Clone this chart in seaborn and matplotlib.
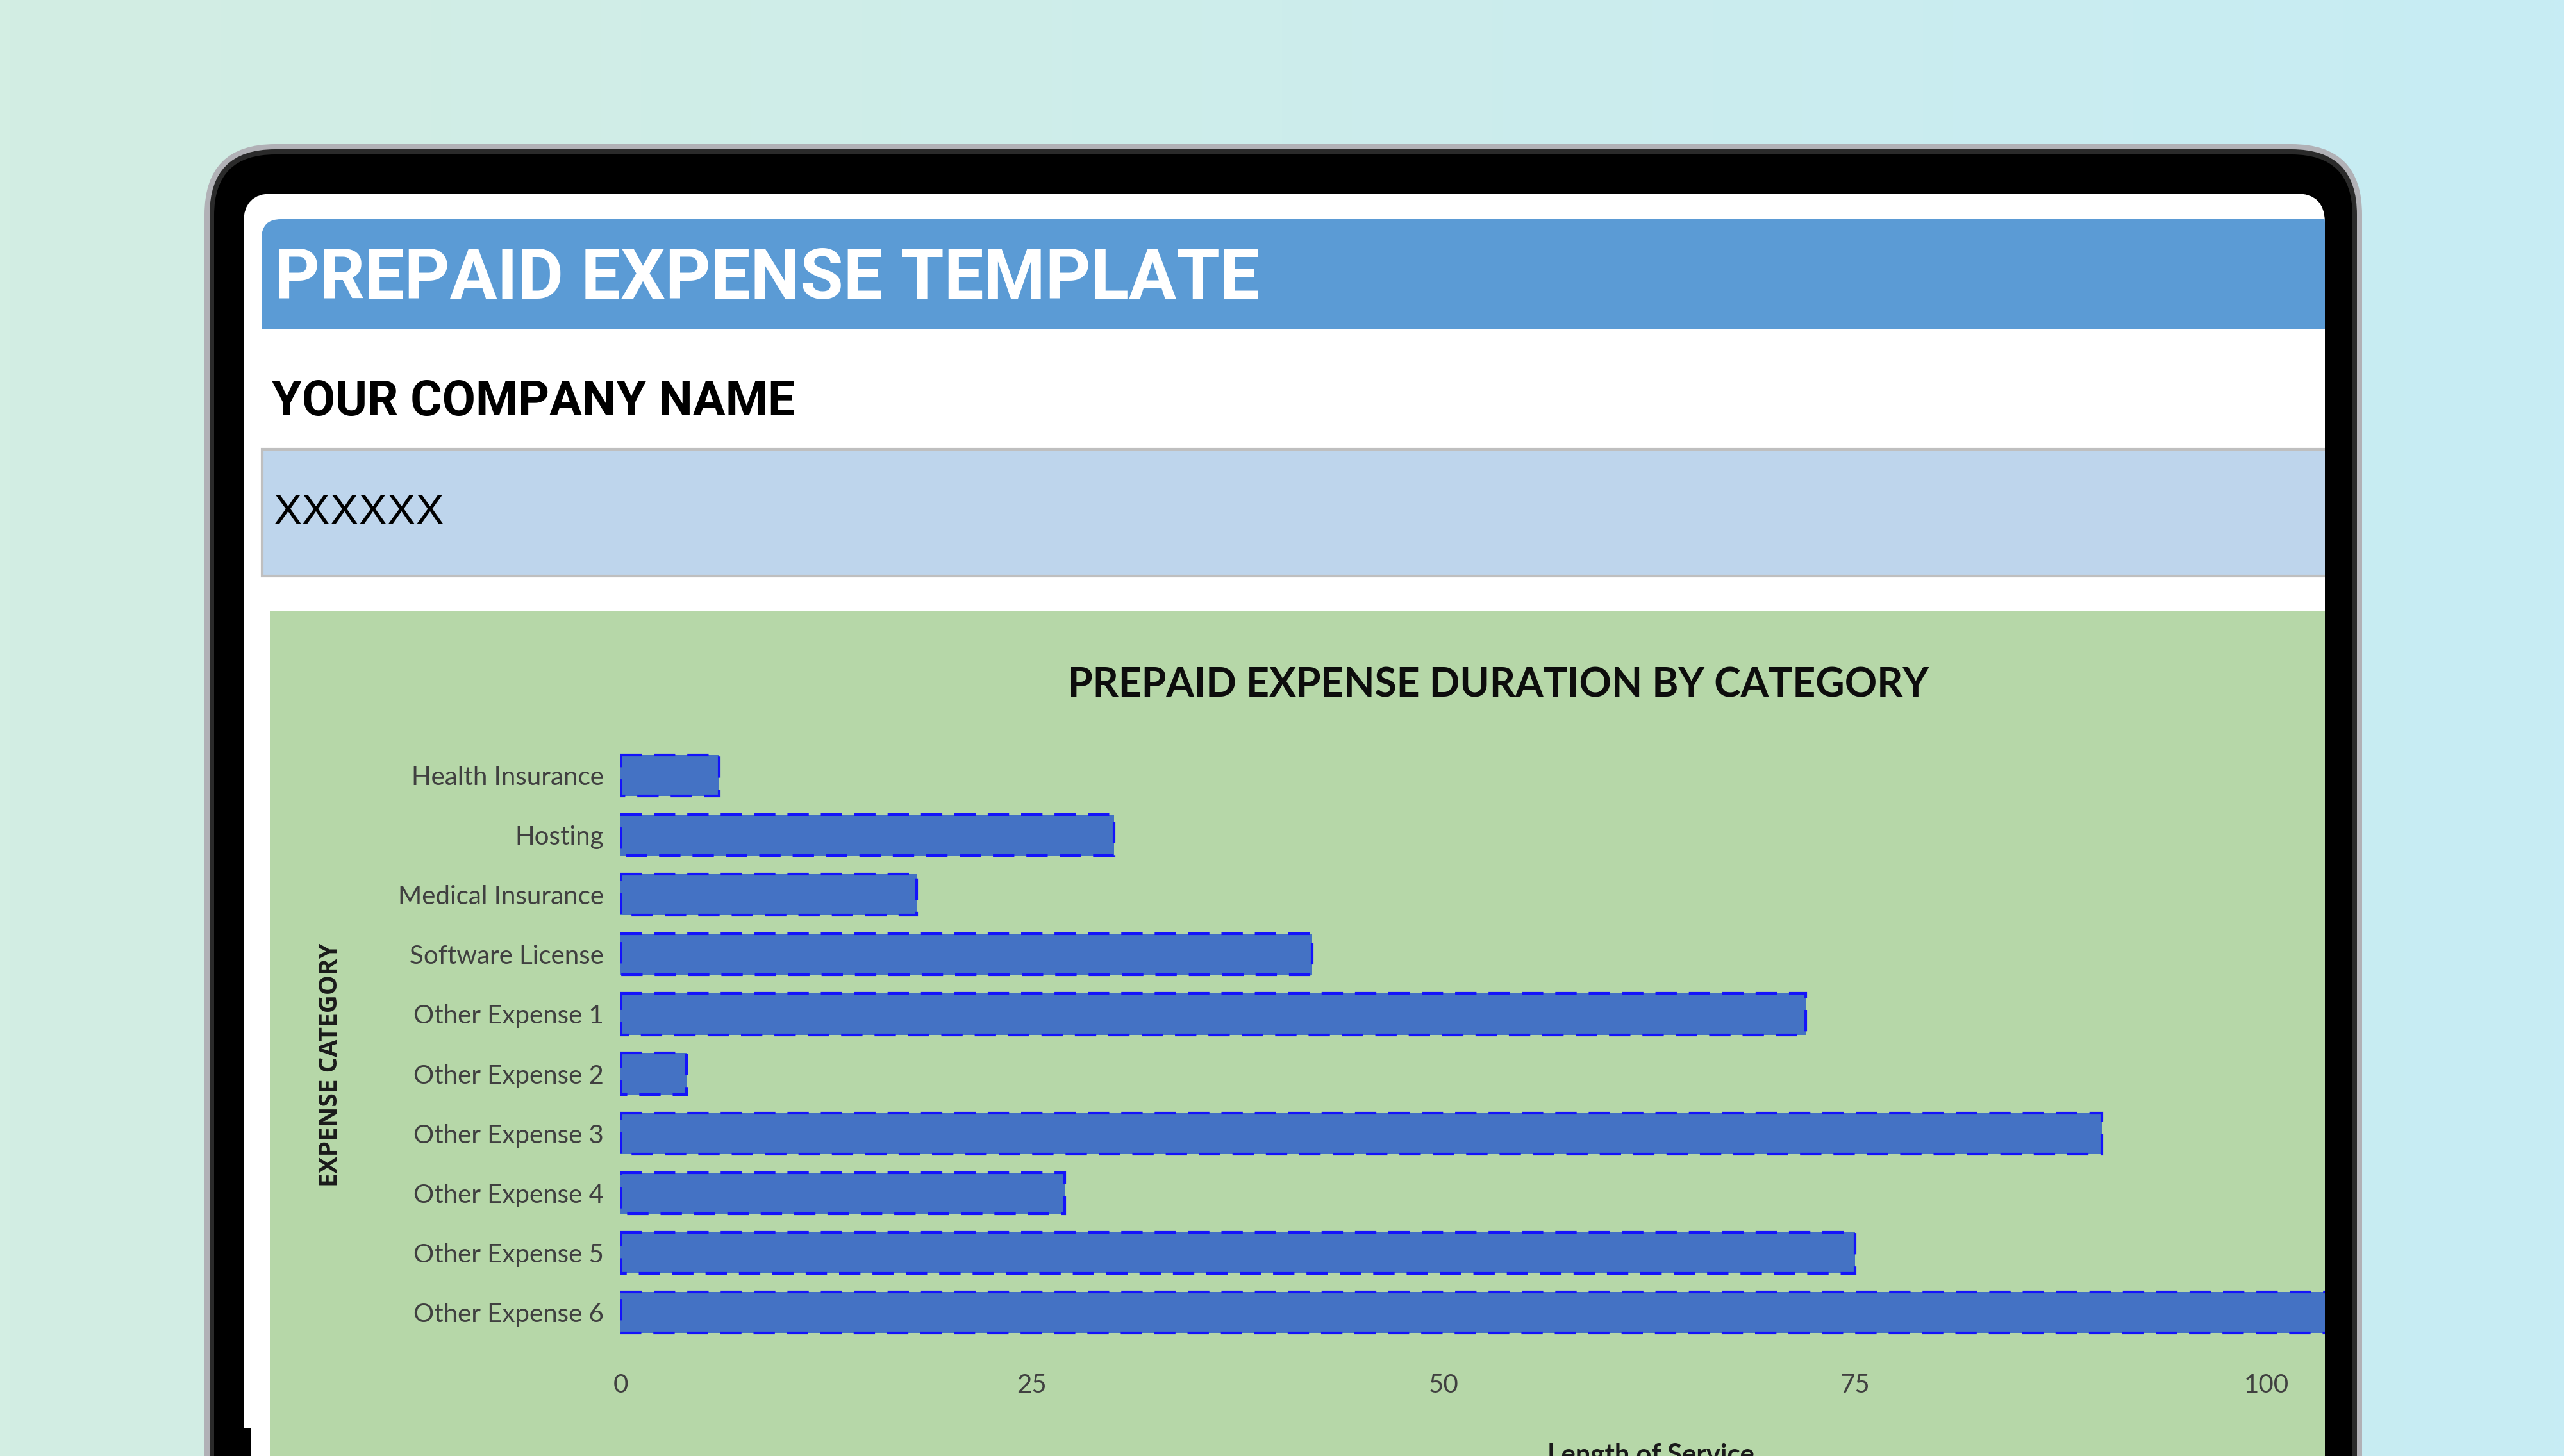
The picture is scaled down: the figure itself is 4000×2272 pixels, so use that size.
import numpy as np
import matplotlib.pyplot as plt
import seaborn as sns
from matplotlib.patches import FancyBboxPatch, Rectangle
from matplotlib.colors import LinearSegmentedColormap

# chart data
categories = ['Health Insurance', 'Hosting', 'Medical Insurance', 'Software License',
              'Other Expense 1', 'Other Expense 2', 'Other Expense 3', 'Other Expense 4',
              'Other Expense 5', 'Other Expense 6']
service_length = [6, 30, 18, 42, 72, 4, 90, 27, 75, 115]
x_ticks = [0, 25, 50, 75, 100]

W, H = 4000, 2272
fig = plt.figure(figsize=(W / 100, H / 100), dpi=100)

# background layer in pixel coordinates (y down)
bg = fig.add_axes([0, 0, 1, 1])
bg.set_xlim(0, W)
bg.set_ylim(H, 0)
bg.axis('off')

grad = np.linspace(0, 1, 256)[None, :]
cmap = LinearSegmentedColormap.from_list('bg', ['#D3EEE3', '#C7ECF4'])
bg.imshow(grad, extent=[0, W, H, 0], aspect='auto', cmap=cmap, zorder=0)

# tablet frame
bg.add_patch(FancyBboxPatch((319, 225), 3366, 2600, boxstyle='round,pad=0,rounding_size=110',
                            fc='#B1B1B6', ec='none', zorder=1))
bg.add_patch(FancyBboxPatch((327, 233), 3350, 2600, boxstyle='round,pad=0,rounding_size=102',
                            fc='#2A2A2A', ec='none', zorder=1))
bg.add_patch(FancyBboxPatch((334, 241), 3336, 2600, boxstyle='round,pad=0,rounding_size=95',
                            fc='black', ec='none', zorder=1))
screen = FancyBboxPatch((380, 302), 3247, 2600, boxstyle='round,pad=0,rounding_size=45',
                        fc='white', ec='none', zorder=2)
bg.add_patch(screen)
bg.add_patch(Rectangle((381, 2229), 11, 60, fc='black', ec='none', zorder=2))

# spreadsheet header (rounded only at the top)
header = FancyBboxPatch((408, 342), 3400, 260, boxstyle='round,pad=0,rounding_size=30',
                        fc='#5B9BD5', ec='none', zorder=3)
bg.add_patch(header)
header.set_clip_path(screen)
under = Rectangle((390, 514), 3400, 187, fc='white', ec='none', zorder=3.1)
bg.add_patch(under)
under.set_clip_path(screen)

bg.text(428, 466, 'PREPAID EXPENSE TEMPLATE', color='white', fontsize=79,
        fontweight='bold', family=['Roboto', 'DejaVu Sans'], va='baseline', zorder=4)
bg.text(424, 648, 'YOUR COMPANY NAME', color='black', fontsize=54.5,
        fontweight='bold', family=['Roboto', 'DejaVu Sans'], va='baseline', zorder=4)

band = Rectangle((409, 701), 3400, 198, fc='#BED5EC', ec='#BFBFBF', lw=3, zorder=3.2)
bg.add_patch(band)
band.set_clip_path(screen)
bg.text(426, 818, 'XXXXXX', color='black', fontsize=48,
        family=['Liberation Sans', 'DejaVu Sans'], va='baseline', zorder=4)

green = Rectangle((421, 953), 3400, 1500, fc='#B6D7A8', ec='none', zorder=3.2)
bg.add_patch(green)
green.set_clip_path(screen)

# chart
x0, x_right = 968, 3627
y_top, y_bot = 1163.5, 2094.5
ax = fig.add_axes([x0 / W, 1 - y_bot / H, (x_right - x0) / W, (y_bot - y_top) / H])
ax.set_facecolor('none')

sns.barplot(x=service_length, y=categories, orient='h', color='#4472C4', saturation=1,
            width=0.69, edgecolor='#1414FA', linewidth=3, linestyle=(0, (8, 4.5)), ax=ax)

px_per_unit = 25.68
ax.set_xlim(0, (x_right - x0) / px_per_unit)
ax.set_xticks(x_ticks)
ax.set_xticklabels([str(t) for t in x_ticks])
for s in ax.spines.values():
    s.set_visible(False)
ax.tick_params(axis='x', length=0, pad=35, labelsize=29, labelcolor='#404040')
ax.tick_params(axis='y', length=0, pad=19, labelsize=29, labelcolor='#404040')
for lab in ax.get_xticklabels() + ax.get_yticklabels():
    lab.set_family(['Lato', 'DejaVu Sans'])

ax.set_title('PREPAID EXPENSE DURATION BY CATEGORY', fontsize=45, fontweight='bold',
             family=['Lato', 'DejaVu Sans'], color='#0D0D0D',
             x=(2337 - x0) / (x_right - x0), y=1 + (y_top - 1087) / (y_bot - y_top), pad=0)

ax.set_ylabel('EXPENSE CATEGORY', fontsize=28, fontweight='bold',
              family=['Open Sans', 'DejaVu Sans'], color='#1A1A1A', va='center')
ax.yaxis.set_label_coords((516 - x0) / (x_right - x0), 1 - (1662 - y_top) / (y_bot - y_top))

ax.set_xlabel('Length of Service', fontsize=30, fontweight='bold',
              family=['Lato', 'DejaVu Sans'], color='#1A1A1A', va='top')
ax.xaxis.set_label_coords((2575 - x0) / (x_right - x0), -(2252 - y_bot) / (y_bot - y_top))

fig.savefig('out.png', dpi=100)
